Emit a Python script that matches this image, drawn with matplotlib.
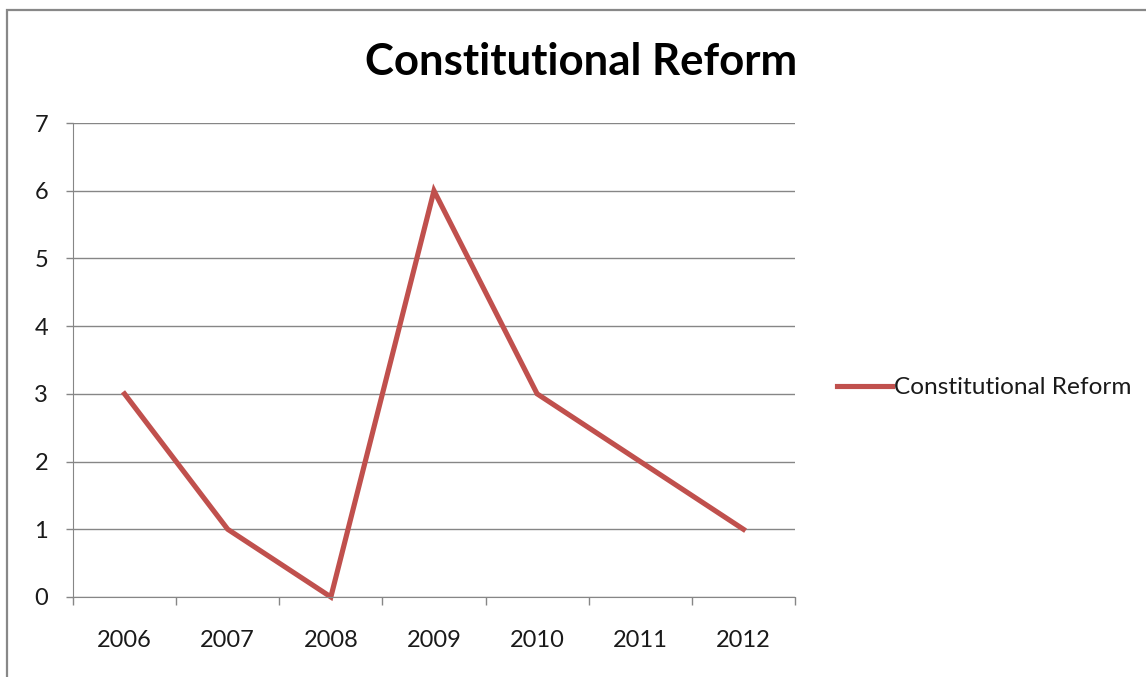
import numpy as np
import matplotlib.pyplot as plt
from matplotlib.patches import Rectangle
from matplotlib.lines import Line2D

years = ['2006', '2007', '2008', '2009', '2010', '2011', '2012']
reform = [3, 1, 0, 6, 3, 2, 1]
series_name = 'Constitutional Reform'

plt.rcParams['font.family'] = ['Lato', 'DejaVu Sans']

fig = plt.figure(figsize=(11.46, 6.77), dpi=100)
ax = fig.add_axes([0.0637, 0.1182, 0.63, 0.7001])

x = np.arange(len(years))
ax.plot(x, reform, color='#C0504D', lw=3.7, solid_joinstyle='miter', clip_on=False)

ax.set_xlim(-0.5, len(years) - 0.5)
ax.set_ylim(0, 7)

# category boundaries carry the tick marks, labels sit in the middle
ax.set_xticks(np.arange(len(years) + 1) - 0.5)
ax.set_xticklabels([])
ax.set_xticks(x, minor=True)
ax.set_xticklabels(years, minor=True)
ax.tick_params(axis='x', which='major', length=6, width=1, color='#868686', direction='out')
ax.tick_params(axis='x', which='minor', length=0, pad=24, labelsize=17, labelcolor='#1a1a1a')

ax.set_yticks(range(0, 8))
ax.tick_params(axis='y', length=5, width=1, color='#868686', pad=13, labelsize=17, labelcolor='#1a1a1a')
ax.yaxis.grid(True, color='#868686', lw=1)
ax.set_axisbelow(True)

for side in ['top', 'right']:
    ax.spines[side].set_visible(False)
ax.spines['left'].set_color('#868686')
ax.spines['bottom'].set_color('#868686')

fig.text(0.5074, 0.908, 'Constitutional Reform', ha='center', va='center',
         fontsize=31.5, fontweight='bold', color='black')

handle = Line2D([0], [0], color='#C0504D', lw=3.7)
fig.legend([handle], [series_name], loc='center left', bbox_to_anchor=(0.711, 0.427),
           frameon=False, fontsize=17.6, handlelength=2.25, handletextpad=0.1,
           labelcolor='#1a1a1a')

# chart frame
fig.patches.append(Rectangle((0.0061, -0.02), 1.1, 1.0052, transform=fig.transFigure,
                             fill=False, edgecolor='#888888', lw=1.6, clip_on=False))

fig.savefig('out.png', dpi=100)
